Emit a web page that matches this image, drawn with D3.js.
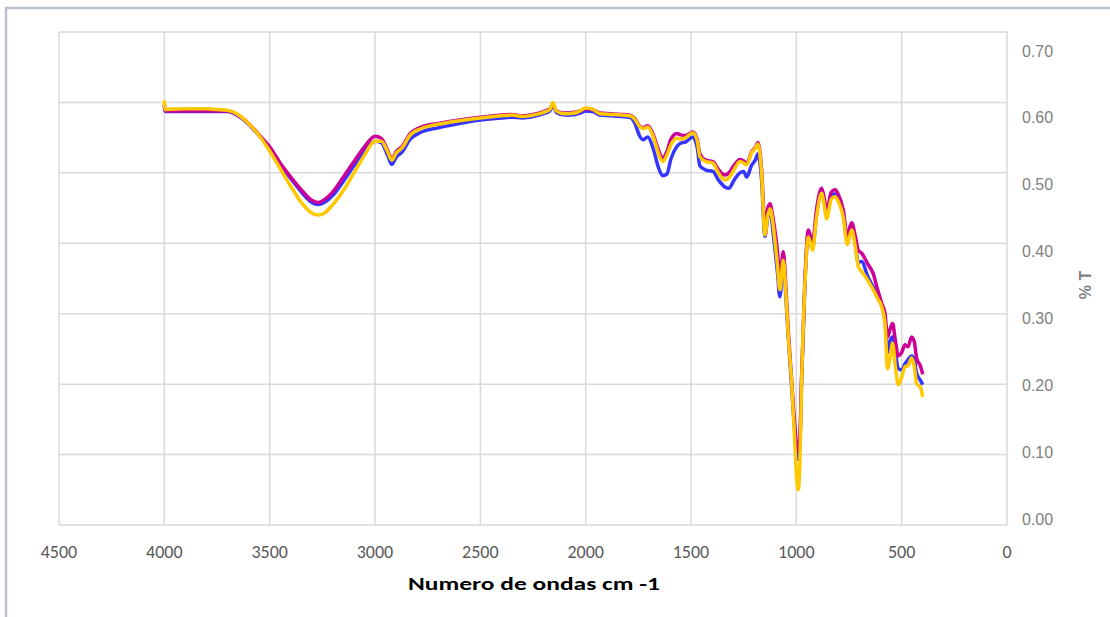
<!DOCTYPE html>
<html>
<head>
<meta charset="utf-8">
<script src="https://cdn.jsdelivr.net/npm/d3@7"></script>
<style>
  body{margin:0;background:#fff;}
  svg{display:block;}
</style>
</head>
<body>
<div id="chart"></div>
<script>
// wavenumbers (cm-1), shared by the three spectra
var wavenumbers=[4000,3996,3900,3800,3750,3700,3650,3600,3550,3500,3450,3400,3350,3300,3270,3240,3200,3150,3100,3050,
	3000,2970,2940,2920,2900,2870,2835,2780,2700,2600,2500,2400,2350,2300,2250,2200,2170,2156,2140,2100,
	2050,2027,2000,1966,1932,1880,1830,1790,1766,1745,1728,1705,1680,1655,1635,1615,1595,1568,1550,1525,
	1491,1470,1458,1430,1396,1370,1339,1320,1295,1268,1250,1236,1212,1195,1182,1165,1149,1135,1125,1112,
	1102,1090,1078,1062,1050,1038,1022,1007,998,991,983,975,959,943,933,923,905,880,868,856,
	835,817,800,777,758,745,737,720,706,690,660,635,615,595,579,567,555,543,530,516,
	500,484,470,453,440,429,410,400];

var blueT=[.595,.587,.587,.587,.587,.587,.581,.569,.553,.535,.512,.492,.473,.458,.455,.458,.468,.488,.510,.530,
	.545,.543,.525,.512,.522,.530,.547,.558,.564,.570,.575,.578,.579,.578,.580,.584,.588,.596,.586,.582,
	.583,.585,.588,.587,.582,.581,.580,.579,.570,.553,.547,.551,.535,.508,.496,.498,.520,.537,.542,.544,
	.551,.535,.510,.504,.502,.490,.480,.478,.490,.500,.502,.494,.511,.518,.527,.490,.410,.438,.447,.420,
	.393,.360,.324,.380,.325,.265,.195,.130,.100,.093,.115,.205,.345,.412,.402,.393,.438,.475,.460,.440,
	.466,.470,.462,.441,.403,.416,.423,.398,.373,.374,.352,.338,.326,.313,.290,.245,.262,.267,.245,.222,
	.220,.229,.235,.240,.235,.215,.205,.199];

var magentaT=[.598,.588,.588,.588,.588,.588,.582,.570,.554,.537,.514,.494,.476,.461,.458,.462,.473,.494,.516,.537,
	.552,.549,.532,.520,.530,.538,.555,.565,.570,.575,.579,.582,.583,.581,.583,.587,.591,.598,.588,.585,
	.586,.588,.591,.590,.585,.584,.583,.582,.577,.567,.564,.567,.555,.533,.521,.530,.548,.556,.554,.553,
	.558,.547,.527,.518,.516,.505,.497,.500,.511,.519,.517,.513,.530,.536,.543,.505,.425,.450,.456,.438,
	.419,.390,.350,.388,.340,.275,.205,.140,.112,.106,.125,.210,.350,.419,.410,.400,.446,.478,.465,.445,
	.472,.476,.469,.447,.408,.424,.429,.410,.390,.386,.370,.357,.335,.315,.300,.267,.278,.286,.262,.240,
	.245,.256,.253,.267,.260,.237,.225,.214];

var yellowT=[.603,.590,.591,.591,.590,.589,.583,.570,.553,.531,.506,.481,.458,.443,.440,.443,.455,.475,.500,.525,
	.545,.545,.530,.518,.528,.536,.553,.563,.569,.574,.578,.581,.582,.580,.582,.586,.590,.600,.588,.584,
	.585,.588,.592,.590,.584,.583,.582,.581,.576,.566,.563,.565,.552,.528,.516,.525,.540,.549,.548,.550,
	.557,.545,.523,.516,.514,.500,.490,.493,.505,.516,.514,.511,.529,.535,.541,.500,.412,.440,.449,.430,
	.405,.370,.334,.376,.330,.267,.201,.116,.065,.050,.090,.201,.343,.409,.400,.390,.435,.471,.455,.435,
	.462,.466,.459,.437,.398,.412,.419,.395,.367,.360,.347,.334,.322,.310,.286,.222,.238,.258,.225,.199,
	.210,.225,.226,.237,.225,.201,.195,.182];

var xTicks=[4500,4000,3500,3000,2500,2000,1500,1000,500,0];
var yTicks=[0,0.1,0.2,0.3,0.4,0.5,0.6,0.7];

(function(){
var W=1110,H=617;
var pLeft=59,pRight=1007,pTop=32,pBottom=525;

var svg=d3.select("#chart").append("svg").attr("width",W).attr("height",H);

// outer chart frame (cropped on right/bottom)
svg.append("rect").attr("x",6).attr("y",8).attr("width",W+20).attr("height",H+20)
	.attr("fill","none").attr("stroke","#b8c0cb").attr("stroke-width",2.5);

var x=d3.scaleLinear().domain([4500,0]).range([pLeft,pRight]);
var y=d3.scaleLinear().domain([0,0.7]).range([pBottom,pTop]);
// tick labels sit slightly inside the gridline span in the original
var yLab=d3.scaleLinear().domain([0,0.7]).range([519,51]);

var grid=svg.append("g");
grid.selectAll("line.v").data(xTicks).enter().append("line")
	.attr("x1",function(d){return x(d);}).attr("x2",function(d){return x(d);})
	.attr("y1",pTop).attr("y2",pBottom)
	.attr("stroke","#d9d9d9").attr("stroke-width",1.5);
grid.selectAll("line.h").data(yTicks).enter().append("line")
	.attr("x1",pLeft).attr("x2",pRight)
	.attr("y1",function(d){return y(d);}).attr("y2",function(d){return y(d);})
	.attr("stroke","#d9d9d9").attr("stroke-width",1.5);

svg.selectAll("text.xl").data(xTicks).enter().append("text")
	.attr("x",function(d){return x(d);}).attr("y",558)
	.attr("text-anchor","middle")
	.attr("font-family","Carlito, Lato, sans-serif")
	.attr("font-size",18).attr("fill","#595959")
	.text(function(d){return d;});

svg.selectAll("text.yl").data(yTicks).enter().append("text")
	.attr("x",1022).attr("y",function(d){return yLab(d);})
	.attr("dominant-baseline","central")
	.attr("font-family","'Liberation Sans', Arial, sans-serif")
	.attr("font-size",16).attr("fill","#808080")
	.text(function(d){return d3.format(".2f")(d);});

svg.append("text").attr("x",534).attr("y",590)
	.attr("text-anchor","middle")
	.attr("font-family","Carlito, Lato, sans-serif")
	.attr("font-weight","bold").attr("font-size",18).attr("fill","#000")
	.attr("textLength",252).attr("lengthAdjust","spacingAndGlyphs")
	.text("Numero de ondas  cm -1");

svg.append("text")
	.attr("transform","translate(1091,285) rotate(-90)")
	.attr("text-anchor","middle")
	.attr("font-family","'Liberation Sans', Arial, sans-serif")
	.attr("font-weight","bold").attr("font-size",16).attr("fill","#7f7f7f")
	.text("% T");

var line=d3.line()
	.x(function(d,i){return x(wavenumbers[i]);})
	.y(function(d){return y(d);})
	.curve(d3.curveMonotoneX);

var series=[
	{vals:blueT,color:"#3535ff"},
	{vals:magentaT,color:"#cc0099"},
	{vals:yellowT,color:"#ffc800"}
];
svg.selectAll("path.s").data(series).enter().append("path")
	.attr("d",function(d){return line(d.vals);})
	.attr("fill","none")
	.attr("stroke",function(d){return d.color;})
	.attr("stroke-width",3.5)
	.attr("stroke-linejoin","round");
})();
</script>
</body>
</html>
